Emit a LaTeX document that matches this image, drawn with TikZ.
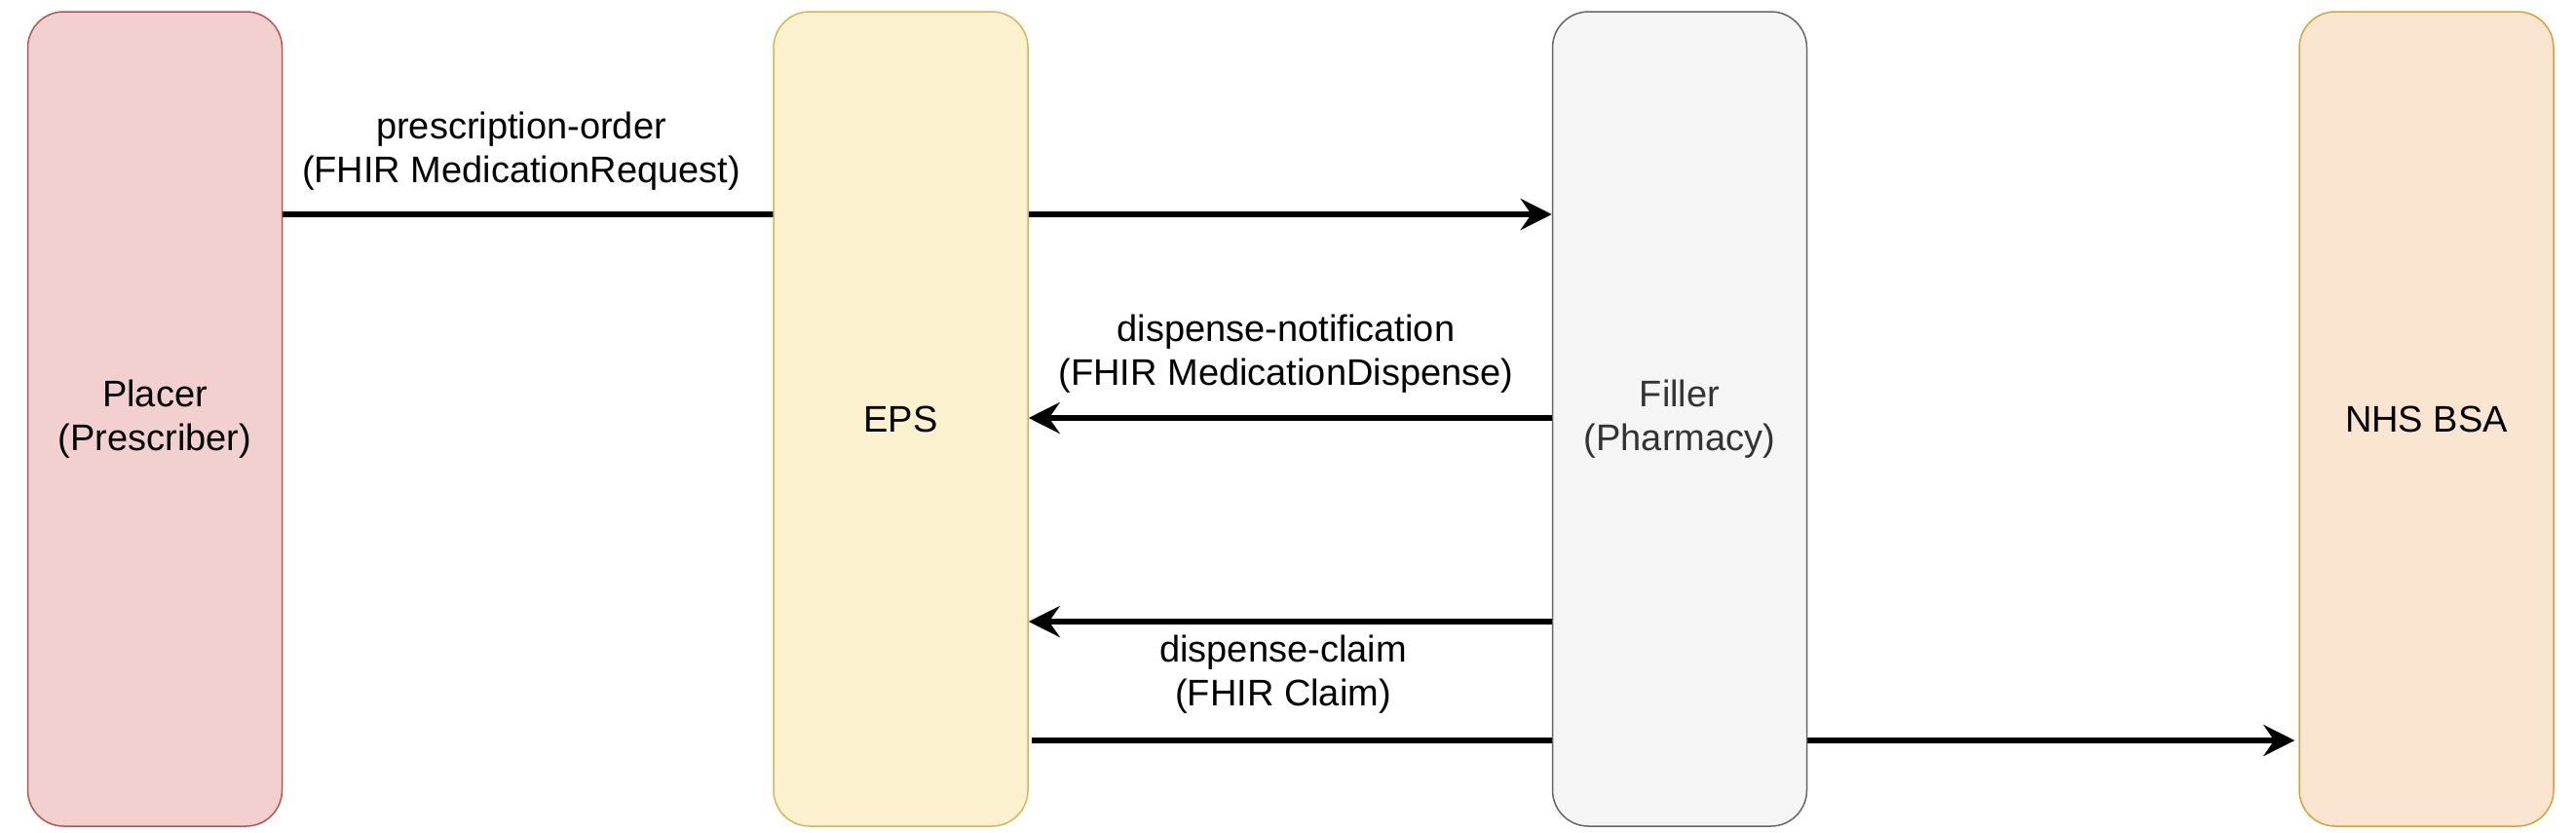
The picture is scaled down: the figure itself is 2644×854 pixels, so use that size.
\documentclass[tikz,border=0pt]{standalone}
\usepackage{fontspec}
\setmainfont{Liberation Sans}
\usetikzlibrary{arrows.meta,backgrounds}
\definecolor{plfill}{HTML}{F2D0CF}
\definecolor{pldraw}{HTML}{B85450}
\definecolor{epfill}{HTML}{FCF1CE}
\definecolor{epdraw}{HTML}{D6B656}
\definecolor{fifill}{HTML}{F5F5F5}
\definecolor{fidraw}{HTML}{666666}
\definecolor{fitext}{HTML}{333333}
\definecolor{nhfill}{HTML}{FAE6D0}
\definecolor{nhdraw}{HTML}{D6A13A}
\tikzset{
  lane/.style={draw, line width=1.5pt, rounded corners=37pt, minimum width=261pt,
    minimum height=836pt, inner sep=0pt, align=center,
    font=\fontsize{38}{45}\selectfont},
  lbl/.style={align=center, inner sep=0pt, font=\fontsize{38}{45}\selectfont},
  msg/.style={line width=6.6pt, -{Stealth[length=32pt,width=32pt,inset=11pt]}},
  seg/.style={line width=6.6pt}
}
\begin{document}
\begin{tikzpicture}[x=1pt,y=-1pt]
\useasboundingbox (0,0) rectangle (2644,854);
\node[lane, fill=plfill, draw=pldraw] (placer) at (159,430) {Placer\\(Prescriber)};
\node[lane, fill=epfill, draw=epdraw] (eps) at (924.5,430) {EPS};
\node[lane, fill=fifill, draw=fidraw, text=fitext] (filler) at (1724,430) {Filler\\(Pharmacy)};
\node[lane, fill=nhfill, draw=nhdraw] (nhs) at (2490.5,430) {NHS BSA};
\coordinate (y1) at (0,220);
\coordinate (y2) at (0,429);
\coordinate (y3) at (0,638);
\coordinate (y4) at (0,760);
\begin{scope}[on background layer]
\draw[msg] (placer.east |- y1) -- (filler.west |- y1);
\draw[msg] ([xshift=3pt]eps.east |- y4) -- ([xshift=-4pt]nhs.west |- y4);
\end{scope}
\draw[msg] (filler.west |- y2) -- (eps.east |- y2);
\draw[msg] (filler.west |- y3) -- (eps.east |- y3);
\node[lbl] (l1) at (535,155) {prescription-order\\(FHIR MedicationRequest)};
\node[lbl] (l2) at (1320,363) {dispense-notification\\(FHIR MedicationDispense)};
\node[lbl] (l3) at (1317,692) {dispense-claim\\(FHIR Claim)};
\end{tikzpicture}
\end{document}
